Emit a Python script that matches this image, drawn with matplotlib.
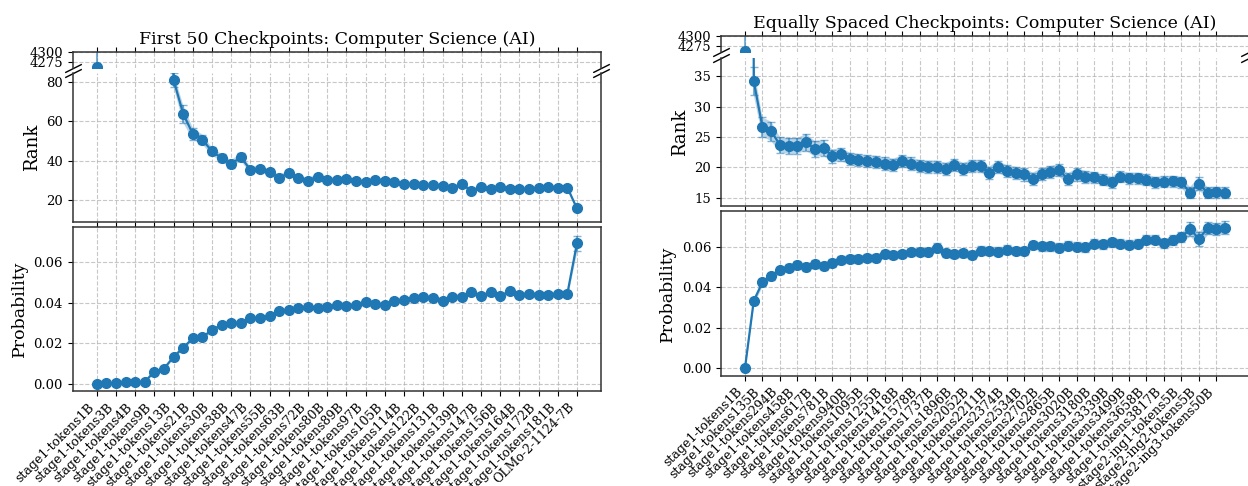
import matplotlib
matplotlib.use("Agg")
import matplotlib.pyplot as plt
import numpy as np

plt.rcParams["font.family"] = ["DejaVu Serif"]
plt.rcParams["axes.edgecolor"] = "#333333"
plt.rcParams["axes.linewidth"] = 1.1

BLUE = "#1f77b4"
W, H = 1248, 486

# ---- First 50 checkpoints (left) ----
first_labels = [
    "stage1-tokens1B", "stage1-tokens3B", "stage1-tokens4B", "stage1-tokens9B",
    "stage1-tokens13B", "stage1-tokens21B", "stage1-tokens30B", "stage1-tokens38B",
    "stage1-tokens47B", "stage1-tokens55B", "stage1-tokens63B", "stage1-tokens72B",
    "stage1-tokens80B", "stage1-tokens89B", "stage1-tokens97B", "stage1-tokens105B",
    "stage1-tokens114B", "stage1-tokens122B", "stage1-tokens131B", "stage1-tokens139B",
    "stage1-tokens147B", "stage1-tokens156B", "stage1-tokens164B", "stage1-tokens172B",
    "stage1-tokens181B", "OLMo-2-1124-7B",
]
first_rank = [
    4263, 3500, 2900, 2300, 1900, 1500, 420, 250, 81.0, 63.8,
    53.6, 50.7, 44.7, 41.3, 38.2, 41.8, 35.3, 35.9, 34.0, 31.4,
    33.6, 31.1, 29.9, 31.9, 30.2, 30.2, 30.7, 29.7, 28.9, 30.1,
    29.7, 29.0, 28.2, 28.0, 27.5, 27.7, 27.3, 26.3, 28.0, 24.8,
    26.5, 25.6, 26.6, 25.5, 25.6, 25.5, 26.0, 26.8, 26.3, 26.3,
    15.7,
]
first_rank_err = [
    60, 300, 250, 200, 180, 150, 60, 40, 3.5, 4.5,
    3.0, 2.5, 2.0, 2.0, 2.0, 2.0, 1.6, 1.5, 1.5, 1.4,
    1.4, 1.3, 1.3, 1.3, 1.2, 1.2, 1.2, 1.2, 1.1, 1.1,
    1.1, 1.1, 1.0, 1.0, 1.0, 1.0, 1.0, 1.0, 1.0, 1.0,
    1.0, 1.0, 1.0, 1.0, 1.0, 1.0, 1.0, 1.0, 1.0, 1.0,
    0.8,
]
first_prob = [
    0.0000, 0.0003, 0.0003, 0.0007, 0.0007, 0.0010, 0.0061, 0.0075, 0.0134, 0.0179,
    0.0225, 0.0231, 0.0266, 0.0292, 0.0302, 0.0300, 0.0325, 0.0326, 0.0336, 0.0359,
    0.0364, 0.0377, 0.0380, 0.0377, 0.0379, 0.0390, 0.0385, 0.0389, 0.0402, 0.0395,
    0.0390, 0.0410, 0.0413, 0.0423, 0.0428, 0.0425, 0.0411, 0.0431, 0.0431, 0.0454,
    0.0434, 0.0452, 0.0434, 0.0457, 0.0439, 0.0443, 0.0439, 0.0439, 0.0446, 0.0446,
    0.0695,
]
first_prob_err = [
    0.0001, 0.0001, 0.0001, 0.0002, 0.0002, 0.0002, 0.0004, 0.0005, 0.0007, 0.0008,
    0.0009, 0.0009, 0.0010, 0.0010, 0.0010, 0.0010, 0.0011, 0.0011, 0.0011, 0.0012,
    0.0012, 0.0012, 0.0012, 0.0012, 0.0012, 0.0013, 0.0013, 0.0013, 0.0013, 0.0013,
    0.0013, 0.0013, 0.0013, 0.0014, 0.0014, 0.0014, 0.0014, 0.0014, 0.0014, 0.0015,
    0.0014, 0.0015, 0.0014, 0.0015, 0.0014, 0.0014, 0.0014, 0.0014, 0.0015, 0.0015,
    0.0037,
]

# ---- Equally spaced checkpoints (right) ----
spaced_labels = [
    "stage1-tokens1B", "stage1-tokens135B", "stage1-tokens294B", "stage1-tokens458B",
    "stage1-tokens617B", "stage1-tokens781B", "stage1-tokens940B", "stage1-tokens1095B",
    "stage1-tokens1255B", "stage1-tokens1418B", "stage1-tokens1578B", "stage1-tokens1737B",
    "stage1-tokens1896B", "stage1-tokens2052B", "stage1-tokens2211B", "stage1-tokens2374B",
    "stage1-tokens2534B", "stage1-tokens2702B", "stage1-tokens2865B", "stage1-tokens3020B",
    "stage1-tokens3180B", "stage1-tokens3339B", "stage1-tokens3499B", "stage1-tokens3658B",
    "stage1-tokens3817B", "stage2-ing1-tokens5B", "stage2-ing2-tokens5B", "stage2-ing3-tokens50B",
]
spaced_rank = [
    4263, 34.2, 26.6, 25.9, 23.7, 23.5, 23.5, 24.1, 23.0, 23.2,
    21.8, 22.1, 21.4, 21.2, 21.0, 20.9, 20.6, 20.4, 21.0, 20.6,
    20.2, 20.1, 20.1, 19.7, 20.4, 19.7, 20.2, 20.2, 19.1, 20.1,
    19.3, 19.1, 18.8, 18.1, 18.9, 19.2, 19.5, 18.0, 18.8, 18.4,
    18.3, 17.9, 17.5, 18.4, 18.2, 18.2, 17.9, 17.5, 17.6, 17.7,
    17.5, 15.8, 17.3, 15.8, 15.9, 15.8,
]
spaced_rank_err = [
    60, 2.3, 1.6, 1.6, 1.3, 1.3, 1.3, 1.4, 1.3, 1.3,
    1.1, 1.1, 1.0, 1.0, 1.0, 1.0, 1.0, 1.0, 1.0, 1.0,
    1.0, 1.0, 1.0, 1.0, 1.0, 1.0, 1.0, 1.0, 1.0, 1.0,
    1.0, 1.0, 1.0, 1.0, 1.0, 1.0, 1.0, 1.0, 1.0, 1.0,
    0.9, 0.9, 0.9, 0.9, 0.9, 0.9, 0.9, 0.9, 0.9, 0.9,
    0.9, 0.9, 1.1, 0.9, 0.9, 0.9,
]
spaced_prob = [
    0.0000, 0.0333, 0.0425, 0.0455, 0.0485, 0.0498, 0.0511, 0.0501, 0.0514, 0.0504,
    0.0519, 0.0536, 0.0542, 0.0541, 0.0544, 0.0547, 0.0564, 0.0560, 0.0564, 0.0574,
    0.0577, 0.0577, 0.0597, 0.0569, 0.0564, 0.0569, 0.0560, 0.0582, 0.0580, 0.0577,
    0.0587, 0.0580, 0.0580, 0.0610, 0.0603, 0.0603, 0.0597, 0.0607, 0.0602, 0.0598,
    0.0616, 0.0613, 0.0623, 0.0615, 0.0612, 0.0615, 0.0636, 0.0636, 0.0618, 0.0635,
    0.0648, 0.0689, 0.0640, 0.0692, 0.0689, 0.0696,
]
spaced_prob_err = [
    0.0002, 0.0015, 0.0017, 0.0018, 0.0018, 0.0018, 0.0019, 0.0019, 0.0019, 0.0019,
    0.0019, 0.0020, 0.0020, 0.0020, 0.0020, 0.0020, 0.0020, 0.0020, 0.0020, 0.0020,
    0.0020, 0.0020, 0.0021, 0.0021, 0.0021, 0.0021, 0.0021, 0.0021, 0.0021, 0.0021,
    0.0021, 0.0021, 0.0021, 0.0021, 0.0021, 0.0021, 0.0021, 0.0021, 0.0021, 0.0021,
    0.0022, 0.0022, 0.0022, 0.0022, 0.0022, 0.0022, 0.0023, 0.0023, 0.0023, 0.0023,
    0.0024, 0.0035, 0.0035, 0.0030, 0.0030, 0.0030,
]


def box(x0, x1, ytop, ybot):
    # pixel box -> figure fraction [left, bottom, width, height]
    return [x0 / W, 1 - ybot / H, (x1 - x0) / W, (ybot - ytop) / H]


def plot_series(ax, y, err):
    x = np.arange(len(y))
    y = np.array(y)
    err = np.array(err)
    ax.fill_between(x, y - err, y + err, color=BLUE, alpha=0.3, lw=0)
    ax.errorbar(x, y, yerr=err, fmt="none", ecolor=BLUE, alpha=0.55,
                capsize=3, elinewidth=1.5)
    ax.plot(x, y, "-o", color=BLUE, lw=1.6, ms=7)


def style_grid(ax):
    ax.grid(True, linestyle="--", color="#b0b0b0", alpha=0.7, lw=0.8)


def draw_chart(fig, x0, x1, rows, title, labels, rank, rank_err, prob, prob_err,
               top_ylim, rank_ylim, prob_ylim):
    ax_top = fig.add_axes(box(x0, x1, *rows[0]))
    ax_rank = fig.add_axes(box(x0, x1, *rows[1]), sharex=ax_top)
    ax_prob = fig.add_axes(box(x0, x1, *rows[2]), sharex=ax_top)

    for ax in (ax_top, ax_rank):
        plot_series(ax, rank, rank_err)
        style_grid(ax)
    plot_series(ax_prob, prob, prob_err)
    style_grid(ax_prob)

    ticks = np.arange(0, len(rank), 2)
    ax_prob.set_xticks(ticks)
    ax_prob.set_xticklabels(labels, rotation=45, ha="right", fontsize=9)
    ax_prob.set_xlim(-0.05 * (len(rank) - 1), 1.05 * (len(rank) - 1))

    # broken rank axis
    ax_top.set_ylim(*top_ylim)
    ax_top.set_yticks([4275, 4300])
    ax_rank.set_ylim(*rank_ylim)
    ax_prob.set_ylim(*prob_ylim)
    ax_top.spines["bottom"].set_visible(False)
    ax_rank.spines["top"].set_visible(False)
    ax_top.xaxis.tick_top()
    ax_top.tick_params(labeltop=False, labelbottom=False)
    ax_rank.xaxis.tick_bottom()
    ax_rank.tick_params(labelbottom=False)

    d = 0.5
    kw = dict(marker=[(-1, -d), (1, d)], markersize=12, linestyle="none",
              color="k", mec="k", mew=1, clip_on=False)
    ax_top.plot([0, 1], [0, 0], transform=ax_top.transAxes, **kw)
    ax_rank.plot([0, 1], [1, 1], transform=ax_rank.transAxes, **kw)

    for ax in (ax_top, ax_rank, ax_prob):
        ax.tick_params(axis="y", labelsize=9.5)

    ax_top.set_title(title, fontsize=12.5)
    ax_rank.set_ylabel("Rank", fontsize=13)
    ax_prob.set_ylabel("Probability", fontsize=12.5)


fig = plt.figure(figsize=(W / 100, H / 100), dpi=100)

draw_chart(fig, 72.7, 601, [(52.3, 67.7), (73.3, 221.7), (227.3, 391)],
           "First 50 Checkpoints: Computer Science (AI)", first_labels,
           first_rank, first_rank_err, first_prob, first_prob_err,
           (4261, 4300), (9.0, 84.3), (-0.0035, 0.0773))

draw_chart(fig, 721, 1249, [(36, 52.3), (58, 206), (211, 375.7)],
           "Equally Spaced Checkpoints: Computer Science (AI)", spaced_labels,
           spaced_rank, spaced_rank_err, spaced_prob, spaced_prob_err,
           (4261, 4300), (13.6, 38.0), (-0.0038, 0.0778))

fig.savefig("out.png", dpi=100)
